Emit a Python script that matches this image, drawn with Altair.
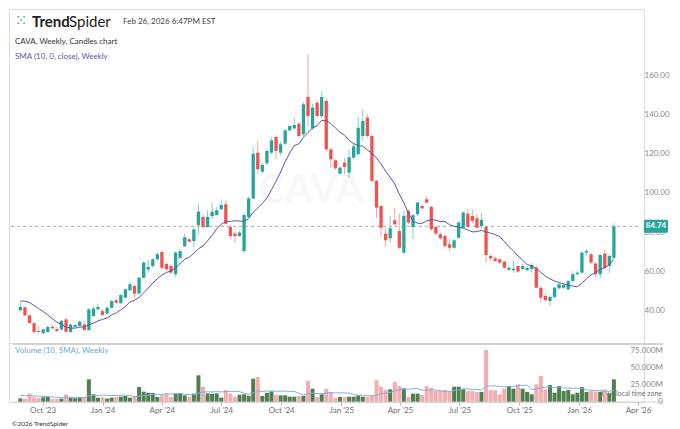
import altair as alt
import pandas as pd

START = "2023-08-28"

opens = [
    41.9, 43.4, 39.3, 35.3, 31.3, 30.2, 30.8, 33.5, 32.2, 32.1,
    37.2, 30.8, 33.4, 33.9, 34.7, 31.8, 39.0, 42.4, 41.5, 40.2,
    43.2, 47.0, 45.5, 48.3, 52.1, 54.3, 50.4, 58.5, 62.6, 64.5,
    67.9, 71.6, 65.5, 64.5, 60.3, 68.7, 74.5, 78.1, 77.2, 85.4,
    89.5, 84.4, 90.0, 90.5, 93.4, 96.0, 84.4, 81.0, 79.8, 72.1,
    89.5, 99.0, 122.3, 112.6, 116.9, 122.3, 130.3, 122.3, 126.9, 133.7,
    134.7, 137.1, 131.7, 150.7, 134.7, 147.8, 141.0, 148.7, 124.0, 118.4,
    111.6, 117.2, 112.1, 119.8, 121.5, 130.8, 140.2, 130.8, 107.9, 95.1,
    81.0, 78.6, 87.8, 82.3, 71.3, 92.6, 84.4, 90.9, 95.1, 98.5,
    94.6, 84.4, 80.7, 79.8, 75.6, 73.8, 78.9, 84.0, 91.2, 90.0,
    88.8, 84.9, 84.4, 69.6, 68.4, 67.9, 66.7, 62.6, 62.3, 64.5,
    62.9, 62.4, 63.0, 63.6, 53.4, 49.2, 46.6, 48.7, 53.1, 53.4,
    52.6, 56.8, 60.3, 61.1, 71.3, 70.5, 65.7, 60.3, 70.8, 64.5,
    68.7,
]
closes = [
    43.6, 39.3, 35.4, 30.8, 30.8, 32.2, 33.4, 32.7, 31.3, 36.4,
    31.0, 34.6, 34.4, 36.1, 31.8, 42.4, 42.8, 43.6, 39.5, 43.2,
    46.6, 45.8, 49.7, 52.6, 55.2, 50.4, 58.5, 66.2, 64.0, 67.9,
    70.5, 63.6, 62.8, 61.1, 71.3, 72.1, 79.2, 76.9, 83.2, 92.2,
    84.4, 89.5, 92.2, 92.9, 95.6, 86.0, 79.8, 79.8, 81.5, 90.5,
    99.0, 121.8, 113.8, 116.0, 123.2, 128.6, 123.2, 126.6, 133.7, 135.9,
    136.4, 130.8, 147.0, 141.0, 145.3, 141.0, 150.7, 124.0, 118.9, 114.3,
    114.6, 115.0, 120.0, 125.5, 135.0, 138.5, 130.8, 107.9, 94.3, 84.0,
    77.6, 83.7, 85.8, 73.8, 90.0, 86.6, 90.4, 96.8, 93.9, 96.8,
    83.2, 81.0, 78.6, 74.7, 73.8, 77.6, 86.6, 91.7, 84.5, 87.5,
    84.0, 88.0, 70.1, 68.4, 67.0, 66.2, 63.6, 63.6, 63.1, 61.6,
    64.5, 63.5, 65.0, 53.4, 48.3, 47.0, 48.7, 53.4, 55.2, 54.8,
    56.8, 60.3, 61.1, 71.3, 72.1, 66.2, 60.3, 70.1, 63.6, 69.6,
    84.74,
]
highs = [
    46.1, 44.0, 39.8, 35.8, 33.9, 32.6, 34.0, 34.4, 33.4, 37.0,
    38.0, 35.0, 35.0, 36.8, 36.5, 43.0, 44.0, 45.3, 42.5, 44.0,
    47.2, 48.0, 50.5, 53.0, 56.3, 55.0, 59.0, 67.0, 67.7, 68.5,
    71.5, 72.5, 66.5, 65.0, 72.0, 73.0, 81.0, 79.0, 84.0, 96.3,
    91.0, 92.9, 96.8, 94.6, 98.5, 98.0, 85.5, 82.0, 82.5, 91.5,
    100.0, 125.2, 128.3, 117.0, 124.5, 130.0, 131.0, 128.0, 134.5, 136.5,
    140.5, 138.0, 148.0, 172.6, 147.0, 149.0, 153.8, 150.0, 124.5, 119.0,
    115.5, 119.7, 124.0, 127.5, 140.5, 144.4, 142.2, 131.5, 108.5, 95.5,
    84.0, 90.0, 94.1, 90.9, 92.9, 93.5, 91.0, 97.5, 96.0, 100.2,
    95.5, 85.0, 81.5, 80.5, 78.1, 78.5, 87.5, 92.5, 93.5, 93.4,
    91.0, 91.5, 85.0, 70.5, 69.0, 68.5, 67.0, 64.0, 67.0, 65.0,
    65.7, 64.5, 66.0, 64.5, 54.0, 50.0, 49.5, 54.0, 56.0, 55.5,
    57.5, 61.9, 62.0, 72.0, 73.0, 71.0, 66.5, 71.0, 73.0, 70.5,
    86.3,
]
lows = [
    41.3, 38.8, 35.0, 30.3, 30.2, 29.7, 30.5, 32.3, 30.9, 31.5,
    30.3, 30.3, 33.0, 33.5, 31.5, 31.5, 38.5, 42.0, 39.0, 39.8,
    42.8, 45.0, 45.0, 48.0, 51.8, 48.2, 50.0, 58.0, 61.1, 63.5,
    67.0, 63.0, 62.0, 60.5, 58.9, 68.0, 74.0, 76.5, 74.0, 80.7,
    83.5, 84.0, 88.5, 90.0, 93.0, 85.5, 78.5, 76.4, 79.3, 71.0,
    89.0, 98.5, 111.3, 111.5, 116.0, 121.5, 119.0, 121.0, 126.0, 133.0,
    134.0, 130.0, 130.5, 135.4, 134.0, 140.0, 140.0, 123.0, 114.5, 113.5,
    111.0, 111.4, 109.5, 119.0, 121.0, 128.3, 130.0, 107.0, 89.0, 79.8,
    74.2, 76.4, 85.0, 73.0, 70.5, 86.0, 78.1, 90.0, 93.0, 96.0,
    82.5, 80.3, 78.0, 74.0, 72.1, 73.0, 78.5, 83.5, 84.0, 86.5,
    83.5, 83.5, 66.2, 67.0, 66.5, 65.5, 63.0, 62.0, 61.1, 61.0,
    62.5, 62.0, 61.0, 53.0, 45.8, 46.5, 44.1, 48.0, 52.5, 52.8,
    52.0, 56.0, 59.8, 60.5, 69.6, 65.5, 58.9, 58.5, 63.0, 61.1,
    68.0,
]
volumes_m = [
    5.4, 4.9, 12.7, 6.9, 5.9, 6.9, 7.4, 4.4, 4.4, 4.9,
    11.3, 6.4, 5.4, 6.9, 6.9, 33.3, 11.3, 6.4, 6.9, 4.9,
    6.4, 7.4, 7.8, 8.8, 6.4, 8.8, 22.0, 15.2, 13.7, 13.2,
    7.4, 10.3, 12.7, 7.4, 12.3, 12.3, 9.8, 7.8, 12.3, 39.2,
    22.5, 12.7, 12.3, 12.7, 6.4, 17.6, 12.7, 7.8, 10.8, 11.3,
    8.8, 34.3, 36.8, 8.8, 13.2, 15.7, 10.8, 9.8, 9.8, 7.8,
    7.8, 8.8, 8.8, 30.9, 19.6, 7.4, 11.3, 19.6, 14.7, 5.9,
    7.4, 7.4, 7.8, 7.8, 9.8, 7.8, 7.8, 9.8, 31.9, 22.5,
    17.6, 18.6, 29.9, 23.5, 20.1, 7.4, 12.3, 12.3, 10.3, 23.5,
    21.1, 16.2, 17.2, 17.6, 16.2, 22.5, 22.5, 19.6, 16.2, 16.2,
    14.7, 14.7, 76.4, 17.6, 17.2, 11.3, 19.6, 23.5, 19.6, 26.0,
    19.6, 14.7, 11.3, 26.0, 38.2, 18.6, 25.0, 13.7, 23.5, 16.2,
    17.6, 11.3, 13.7, 22.0, 14.7, 16.2, 15.2, 14.7, 18.6, 12.7,
    33.3,
]
# weeks before the first drawn candle, used only for the 10-week averages
prior_closes = [41.0, 42.0, 45.0, 47.0, 48.0, 50.0, 52.0, 50.0, 48.0]
prior_volumes_m = [11.0, 10.0, 12.0, 10.0, 9.0, 10.0, 10.0, 10.0, 10.0]

price_ticks = [40, 60, 80, 100, 120, 140, 160]
volume_ticks = [0, 25e6, 50e6, 75e6]
date_ticks = [(2023, 10), (2024, 1), (2024, 4), (2024, 7), (2024, 10), (2025, 1),
              (2025, 4), (2025, 7), (2025, 10), (2026, 1), (2026, 4)]

n = len(closes)
dates = pd.date_range(START, periods=n, freq="7D").strftime("%Y-%m-%d").tolist()
prior_dates = pd.date_range(end=pd.Timestamp(START) - pd.Timedelta(days=7),
                            periods=len(prior_closes), freq="7D").strftime("%Y-%m-%d").tolist()

candles = pd.DataFrame({"date": dates, "open": opens, "high": highs, "low": lows,
                        "close": closes, "volume": [v * 1e6 for v in volumes_m]})
series = pd.DataFrame({"date": prior_dates + dates,
                       "close": prior_closes + closes,
                       "volume": [v * 1e6 for v in prior_volumes_m + volumes_m],
                       "shown": [0] * len(prior_closes) + [1] * n})
last = candles.tail(1)
vticks = pd.DataFrame({"v": volume_ticks})
one = pd.DataFrame({"k": [0]})

GREEN = "#26a69a"
RED = "#ef5350"
GREEN_WICK = "#86cfc4"
RED_WICK = "#f4a3a3"
VOL_UP = "#4f7f4f"
VOL_DN = "#f4adb0"
SMA_C = "#5b57a6"
VSMA_C = "#7db1e3"
LABEL_C = "#8c8c8c"
FONT = "Lato"

up = "datum.close >= datum.open"

x_scale = alt.Scale(type="utc", domain=[
    alt.DateTime(year=2023, month=8, date=18, hours=5, minutes=41, utc=True),
    alt.DateTime(year=2026, month=4, date=2, hours=12, utc=True)])
y_price = alt.Scale(domain=[25.2, 195.6], nice=False, zero=False)
y_vol = alt.Scale(domain=[0, 86.8e6], nice=False, zero=True)

price_axis = alt.Axis(orient="right", values=price_ticks, format=".2f", domain=False,
                      ticks=False, grid=False, labelPadding=0, labelAlign="left",
                      labelOffset=-3.5, labelColor=LABEL_C, labelFontSize=8,
                      labelFont=FONT, labelOverlap=False, title=None)
x_axis = alt.Axis(values=[alt.DateTime(year=y, month=m, date=1, utc=True) for y, m in date_ticks],
                  format="%b '%y", labelFlush=False, domain=False, ticks=True, tickSize=3,
                  tickColor="#b5b5b5", labelColor="#707070", labelFontSize=8,
                  labelFont=FONT, labelPadding=1, grid=False, title=None)


def txt(s, x, y, size=8, color="#333333", weight="normal", align="left", opacity=1.0, font=FONT):
    return alt.Chart(one).mark_text(text=s, fontSize=size, color=color, fontWeight=weight,
                                    align=align, baseline="middle", font=font,
                                    opacity=opacity).encode(x=alt.value(x), y=alt.value(y))


xp = alt.X("date:T", scale=x_scale, axis=None)

watermark = txt("CAVA", 302, 182, size=40, color="#000000", weight="bold",
                align="center", opacity=0.025)
logo = txt("⁙", 12, 12, size=15, color="#3aa58f", align="center", font="DejaVu Sans")
brand1 = txt("Trend", 23, 13, size=15, color="#222222", weight="bold")
brand2 = txt("Spider", 60, 13, size=15, color="#222222", weight="normal")
stamp = txt("Feb 26, 2026 6:47PM EST", 114, 13, size=8, color="#444444")
title1 = txt("CAVA, Weekly, Candles chart", 6, 32.5, size=8, color="#333333")
title2 = txt("SMA (10, 0, close), Weekly", 6, 48, size=8, color=SMA_C)

last_line = alt.Chart(last).mark_rule(color="#a8a8a8", strokeDash=[3, 3], strokeWidth=1).encode(
    x=alt.value(2), x2=alt.value(632), y=alt.Y("close:Q", scale=y_price, title=None))

wicks = alt.Chart(candles).mark_rule(strokeWidth=1).encode(
    x=xp,
    y=alt.Y("low:Q", scale=y_price, axis=price_axis, title=None),
    y2="high:Q",
    color=alt.condition(up, alt.value(GREEN_WICK), alt.value(RED_WICK)))

bodies = alt.Chart(candles).mark_bar(size=3.3).encode(
    x=xp,
    y=alt.Y("open:Q", title=None),
    y2="close:Q",
    color=alt.condition(up, alt.value(GREEN), alt.value(RED)))

sma = alt.Chart(series).transform_window(
    sma="mean(close)", frame=[-9, 0], sort=[alt.SortField("date")]
).transform_filter("datum.shown == 1").mark_line(color=SMA_C, strokeWidth=1).encode(
    x=xp, y=alt.Y("sma:Q", title=None))

last_box = alt.Chart(last).mark_rect(color=GREEN, yOffset=-6.5, y2Offset=6.5, cornerRadius=1).encode(
    x=alt.value(635), x2=alt.value(659), y=alt.Y("close:Q", title=None), y2=alt.Y2("close"))
last_text = alt.Chart(last).mark_text(color="white", fontSize=8, font=FONT, fontWeight="bold",
                                      align="center", baseline="middle").encode(
    x=alt.value(647), y=alt.Y("close:Q", title=None), text=alt.Text("close:Q", format=".2f"))

price = alt.layer(
    wicks, watermark, logo, brand1, brand2, stamp, title1, title2, last_line,
    bodies, sma, last_box, last_text
).properties(width=635, height=334)

# volume pane
sep = alt.Chart(one).mark_rule(color="#d2d2d2", strokeWidth=2).encode(
    x=alt.value(4), x2=alt.value(654), y=alt.value(1))
base = alt.Chart(one).mark_rule(color="#cfcfcf", strokeWidth=1).encode(
    x=alt.value(4), x2=alt.value(654), y=alt.value(59))
vtitle = txt("Volume (10, SMA), Weekly", 6, 7.5, size=8, color="#6aa6dc")
tz = txt("Your local time zone", 653, 51, size=7, color="#6f6f6f", align="right")
copy = txt("©2026 TrendSpider", 3, 81, size=6.5, color="#333333")

vbars = alt.Chart(candles).mark_bar(size=4).encode(
    x=alt.X("date:T", scale=x_scale, axis=x_axis),
    y=alt.Y("volume:Q", scale=y_vol, axis=None, title=None),
    color=alt.condition(up, alt.value(VOL_UP), alt.value(VOL_DN)))

vsma = alt.Chart(series).transform_window(
    vsma="mean(volume)", frame=[-9, 0], sort=[alt.SortField("date")]
).transform_filter("datum.shown == 1").mark_line(color=VSMA_C, strokeWidth=1).encode(
    x=alt.X("date:T", scale=x_scale, axis=x_axis), y=alt.Y("vsma:Q", axis=None, title=None))

vlabels = alt.Chart(vticks).transform_calculate(
    lab="datum.v == 0 ? '0' : format(datum.v / 1000000, '.3f') + 'M'"
).mark_text(align="right", baseline="middle", fontSize=8, font=FONT, color=LABEL_C).encode(
    x=alt.value(654), y=alt.Y("v:Q", axis=None, title=None), text="lab:N")

volume = alt.layer(tz, vbars, vsma, sep, base, vtitle, copy, vlabels).properties(width=635, height=59)

chart = alt.vconcat(price, volume, spacing=0, bounds="flush").properties(
    padding=0, background="white"
).configure_view(stroke=None).configure(font=FONT)

chart.save("out.html", embed_options={"renderer": "svg", "actions": False})
